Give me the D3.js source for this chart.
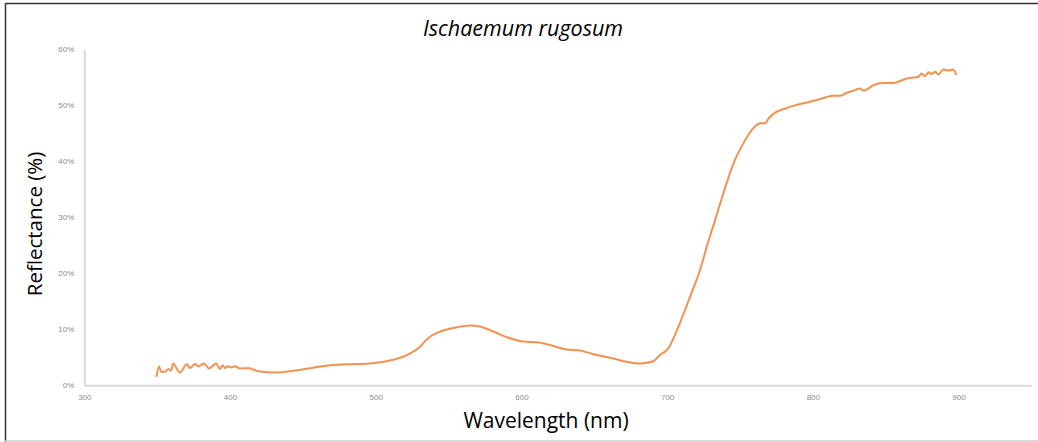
<!DOCTYPE html>
<html>
<head>
<meta charset="utf-8">
<script src="https://cdn.jsdelivr.net/npm/d3@7"></script>
<style>
  html, body { margin: 0; padding: 0; background: #fff; }
  svg { display: block; font-family: "Open Sans", sans-serif; }
  .tick text { fill: #8c8c8c; font-size: 8px; }
</style>
</head>
<body>
<svg id="chart" width="1038" height="442"></svg>
<script>
// Reflectance spectrum
const wavelengths = [
  349.5, 351.3, 352.7, 355.4, 357.7, 359.5, 361.1, 363.4, 365.7, 370.3, 372.5, 376, 378.2,
  382.2, 385.6, 390.4, 393.1, 395, 396.6, 398.8, 401, 403.3, 406.9, 413.7, 416, 420.6,
  432, 443.5, 457.2, 468.6, 480, 496, 507.5, 521.3, 530.4, 535, 544.2, 555.6, 564.7,
  571.6, 580.7, 589.9, 601.3, 610.5, 619.6, 631.1, 640.2, 651.7, 663.1, 672.3, 679.1,
  685, 690.5, 695.1, 700.8, 708.9, 715.7, 722.6, 727.2, 732.9, 738.6, 745.5, 752.3,
  758.1, 763.8, 767.2, 769.5, 774.1, 779.8, 786.6, 795.8, 800.4, 804.9, 814, 818.6,
  823.2, 827.8, 832.4, 834.7, 836.9, 841.6, 848.4, 855.3, 864.5, 872.4, 874.7, 877,
  879.3, 881.6, 883.9, 886.2, 889.6, 893, 896.4, 898.5
];
const reflectance = [
  1.5, 3.4, 2.4, 2.4, 2.9, 2.6, 3.9, 3.0, 2.25, 3.75, 3.1, 3.8, 3.4,
  3.9, 3.0, 3.9, 2.9, 3.6, 3.1, 3.4, 3.2, 3.4, 3.0, 3.05, 2.8, 2.45,
  2.3, 2.6, 3.15, 3.6, 3.75, 3.9, 4.3, 5.4, 6.9, 8.2, 9.6, 10.35, 10.7,
  10.5, 9.6, 8.6, 7.8, 7.7, 7.2, 6.4, 6.2, 5.4, 4.8, 4.2, 3.9,
  4.0, 4.3, 5.4, 6.6, 11.2, 15.8, 20.6, 24.75, 29.5, 34.3, 39.6, 43.2,
  45.6, 46.8, 46.8, 47.6, 48.7, 49.3, 49.9, 50.5, 50.8, 51.1, 51.7, 51.7,
  52.25, 52.6, 53.0, 52.6, 52.8, 53.6, 54.0, 54.0, 54.8, 55.1, 55.7, 55.2,
  55.9, 55.6, 56.0, 55.5, 56.4, 56.2, 56.4, 55.4
];
const xTicks = [300, 400, 500, 600, 700, 800, 900];
const yTicks = [0, 10, 20, 30, 40, 50, 60];

const svg = d3.select('#chart');
const W = 1038, H = 442;

// frame
svg.append('line').attr('x1', 5).attr('x2', W).attr('y1', 3.5).attr('y2', 3.5)
  .attr('stroke', '#333').attr('stroke-width', 1.5);
svg.append('line').attr('x1', 5.5).attr('x2', 5.5).attr('y1', 3).attr('y2', H)
  .attr('stroke', '#333').attr('stroke-width', 1.5);
svg.append('line').attr('x1', 5).attr('x2', W).attr('y1', 441).attr('y2', 441)
  .attr('stroke', '#ccc').attr('stroke-width', 1.5);

const x = d3.scaleLinear().domain([300, 950]).range([84.3, 1031.4]);
const y = d3.scaleLinear().domain([0, 60]).range([385.3, 49.3]);

// axes
const xAxis = svg.append('g').attr('transform', `translate(0,${y(0)})`)
  .call(d3.axisBottom(x).tickValues(xTicks).tickSize(0).tickPadding(9));
xAxis.select('.domain').attr('stroke', '#d9d9d9').attr('stroke-width', 2);

const yAxis = svg.append('g').attr('transform', `translate(${x(300)},0)`)
  .call(d3.axisLeft(y).tickValues(yTicks).tickSize(0).tickPadding(10)
    .tickFormat(d => d + '%'));
yAxis.select('.domain').attr('stroke', '#d9d9d9').attr('stroke-width', 2);

// spectrum
const line = d3.line().x((d, i) => x(wavelengths[i])).y(d => y(d))
  .curve(d3.curveMonotoneX);
svg.append('path').datum(reflectance)
  .attr('d', line)
  .attr('fill', 'none')
  .attr('stroke', '#f4914f')
  .attr('stroke-width', 2)
  .attr('stroke-linejoin', 'round');

// titles
svg.append('text').attr('x', 523).attr('y', 36)
  .attr('text-anchor', 'middle').attr('font-size', 21.5).attr('font-style', 'italic')
  .attr('fill', '#000').text('Ischaemum rugosum');

svg.append('text').attr('x', 546).attr('y', 428)
  .attr('text-anchor', 'middle').attr('font-size', 21)
  .attr('fill', '#000').text('Wavelength (nm)');

svg.append('text')
  .attr('transform', 'translate(42,224) rotate(-90)')
  .attr('text-anchor', 'middle').attr('font-size', 20.5)
  .attr('fill', '#000').text('Reflectance (%)');
</script>
</body>
</html>
